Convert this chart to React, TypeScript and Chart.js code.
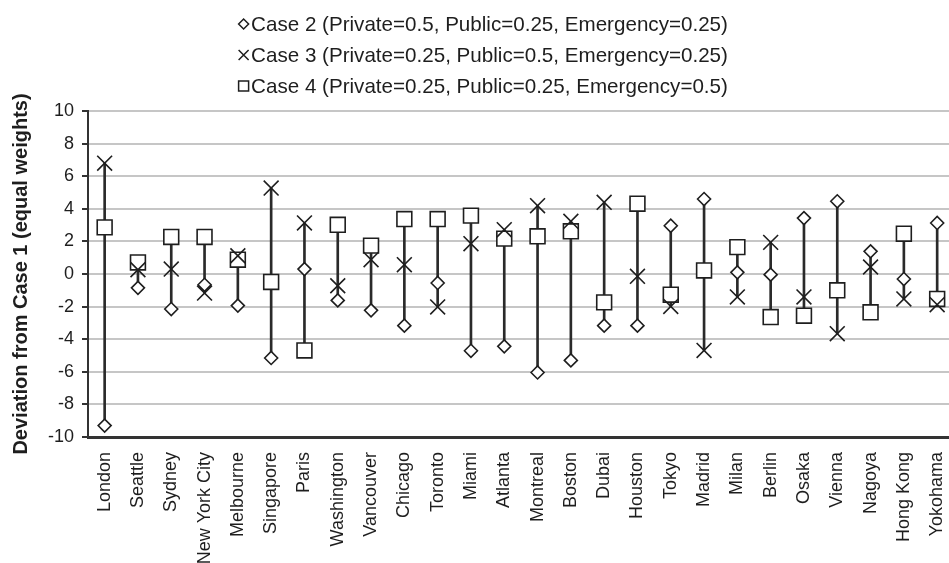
import React, { useEffect, useRef } from 'react';
import { Chart, registerables } from 'chart.js';

Chart.register(...registerables);

const cities = ['London', 'Seattle', 'Sydney', 'New York City', 'Melbourne', 'Singapore', 'Paris', 'Washington', 'Vancouver', 'Chicago', 'Toronto', 'Miami', 'Atlanta', 'Montreal', 'Boston', 'Dubai', 'Houston', 'Tokyo', 'Madrid', 'Milan', 'Berlin', 'Osaka', 'Vienna', 'Nagoya', 'Hong Kong', 'Yokohama'];

const case2 = [-9.3, -0.85, -2.15, -0.66, -1.94, -5.15, 0.3, -1.62, -2.23, -3.17, -0.55, -4.71, -4.44, -6.04, -5.3, -3.17, -3.17, 2.96, 4.6, 0.1, -0.04, 3.43, 4.46, 1.39, -0.31, 3.13];
const case3 = [6.8, 0.26, 0.3, -1.17, 1.12, 5.27, 3.13, -0.72, 0.88, 0.57, -2.02, 1.86, 2.72, 4.19, 3.23, 4.4, -0.14, -1.99, -4.69, -1.41, 1.94, -1.41, -3.66, 0.43, -1.53, -1.88];
const case4 = [2.86, 0.71, 2.27, 2.27, 0.88, -0.49, -4.69, 3.02, 1.74, 3.37, 3.37, 3.58, 2.17, 2.31, 2.62, -1.74, 4.31, -1.27, 0.22, 1.65, -2.64, -2.56, -1.0, -2.35, 2.47, -1.53];

const legendLabels = [
  'Case 2 (Private=0.5, Public=0.25, Emergency=0.25)',
  'Case 3 (Private=0.25, Public=0.5, Emergency=0.25)',
  'Case 4 (Private=0.25, Public=0.25, Emergency=0.5)',
];
const legendShapes = ['diamond', 'cross', 'square'];

const yTitle = 'Deviation from Case 1 (equal weights)';
const yMin = -10;
const yMax = 10;
const yStep = 2;

const FONT = "'Liberation Sans', Arial, sans-serif";
const INK = '#1e1e1e';

const legendPlugin = {
  id: 'textLegend',
  afterDraw(chart: any) {
    const ctx = chart.ctx;
    const cx = chart.width / 2;
    const rowsY = [24, 55, 86];
    ctx.save();
    ctx.font = `20.6px ${FONT}`;
    ctx.textBaseline = 'middle';
    ctx.fillStyle = INK;
    ctx.strokeStyle = INK;
    ctx.lineWidth = 1.5;
    legendLabels.forEach((label, i) => {
      const markW = 11;
      const gap = 2;
      const tw = ctx.measureText(label).width;
      const total = markW + gap + tw;
      const x0 = cx - total / 2;
      const y = rowsY[i];
      const mx = x0 + markW / 2;
      ctx.beginPath();
      if (legendShapes[i] === 'diamond') {
        const r = 5;
        ctx.moveTo(mx - r, y);
        ctx.lineTo(mx, y - r);
        ctx.lineTo(mx + r, y);
        ctx.lineTo(mx, y + r);
        ctx.closePath();
      } else if (legendShapes[i] === 'cross') {
        const r = 5;
        ctx.moveTo(mx - r, y - r);
        ctx.lineTo(mx + r, y + r);
        ctx.moveTo(mx + r, y - r);
        ctx.lineTo(mx - r, y + r);
      } else {
        const r = 5;
        ctx.rect(mx - r, y - r, 2 * r, 2 * r);
      }
      ctx.stroke();
      ctx.textAlign = 'left';
      ctx.fillText(label, x0 + markW + gap, y + 1);
    });
    ctx.restore();
  },
};

export default function App() {
  const canvasRef = useRef<HTMLCanvasElement | null>(null);

  useEffect(() => {
    if (!canvasRef.current) return;
    const stems = cities.map((_, i) => [
      Math.min(case2[i], case3[i], case4[i]),
      Math.max(case2[i], case3[i], case4[i]),
    ]);
    const markerCommon = {
      type: 'line' as const,
      showLine: false,
      pointBorderColor: INK,
      pointBackgroundColor: '#ffffff',
      pointBorderWidth: 1.6,
      pointHoverRadius: 0,
    };
    const chart = new Chart(canvasRef.current, {
      type: 'bar',
      data: {
        labels: cities,
        datasets: [
          {
            type: 'bar',
            label: 'range',
            data: stems as any,
            backgroundColor: '#2a2a2a',
            borderWidth: 0,
            barThickness: 2,
            order: 10,
          },
          {
            ...markerCommon,
            label: legendLabels[2],
            data: case4,
            pointStyle: 'rect',
            pointRadius: 10.5,
            order: 3,
          },
          {
            ...markerCommon,
            label: legendLabels[0],
            data: case2,
            pointStyle: 'rectRot',
            pointRadius: 6.5,
            order: 2,
          },
          {
            ...markerCommon,
            label: legendLabels[1],
            data: case3,
            pointStyle: 'crossRot',
            pointRadius: 10.5,
            order: 1,
          },
        ] as any,
      },
      options: {
        responsive: false,
        animation: false,
        layout: { padding: { top: 111, left: 0, right: 7, bottom: 0 } },
        plugins: {
          legend: { display: false },
          tooltip: { enabled: false },
          title: { display: false },
        },
        scales: {
          x: {
            type: 'category',
            offset: true,
            grid: { display: false },
            border: { display: true, color: '#333', width: 3 },
            ticks: {
              autoSkip: false,
              minRotation: 90,
              maxRotation: 90,
              padding: 7,
              color: INK,
              font: { family: FONT, size: 18 },
            },
            afterFit: (scale: any) => {
              scale.height = 126;
            },
          },
          y: {
            min: yMin,
            max: yMax,
            ticks: {
              stepSize: yStep,
              padding: 8,
              color: INK,
              font: { family: FONT, size: 18 },
            },
            grid: {
              color: '#c6c6c6',
              lineWidth: 2,
              tickColor: '#333',
              tickLength: 6,
              tickWidth: 2,
            },
            border: { display: true, color: '#333', width: 2 },
            title: {
              display: true,
              text: yTitle,
              color: INK,
              font: { family: FONT, size: 20, weight: 'bold' },
              padding: { top: 9, bottom: 0 },
            },
            afterFit: (scale: any) => {
              scale.width = 88;
            },
          },
        },
      },
      plugins: [legendPlugin],
    });
    return () => chart.destroy();
  }, []);

  return (
    <div style={{ position: 'absolute', left: 0, top: 0, width: 949, height: 563, overflow: 'hidden', background: '#fff' }}>
      <canvas ref={canvasRef} width={966} height={563} style={{ width: 966, height: 563, display: 'block' }} />
    </div>
  );
}
